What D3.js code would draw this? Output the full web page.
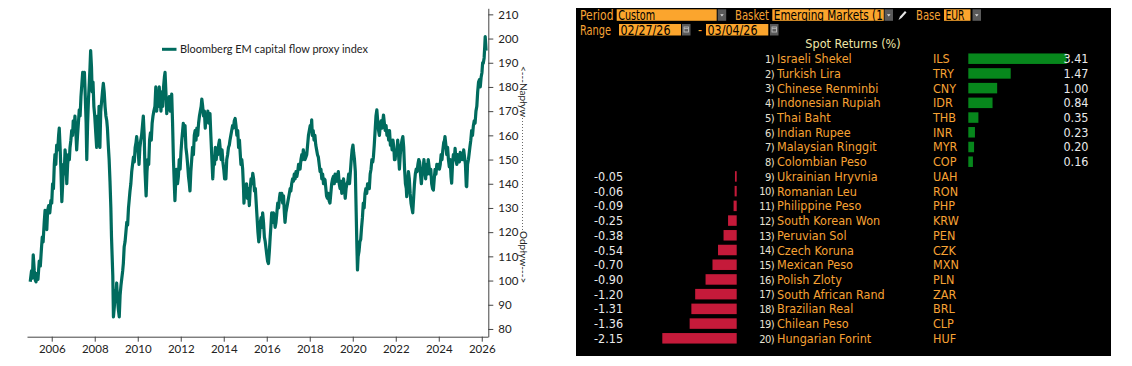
<!DOCTYPE html>
<html>
<head>
<meta charset="utf-8">
<script src="https://cdn.jsdelivr.net/npm/d3@7"></script>
<style>
  body { margin: 0; background: #fff; }
  svg { display: block; }
</style>
</head>
<body>
<script>
// ---- data: left chart (Bloomberg EM capital flow proxy index) ----
const flowSeries = [
  [2005.00, 99.5], [2005.06, 104], [2005.10, 101], [2005.14, 110.6], [2005.19, 104], [2005.24, 100],
  [2005.27, 99.5], [2005.32, 103], [2005.36, 100.5], [2005.42, 108], [2005.47, 106], [2005.52, 113],
  [2005.56, 118], [2005.60, 116], [2005.65, 124], [2005.69, 129], [2005.73, 126], [2005.77, 121],
  [2005.81, 129], [2005.86, 131], [2005.91, 128], [2005.96, 133], [2006.00, 132], [2006.04, 140],
  [2006.08, 138], [2006.12, 148], [2006.15, 152], [2006.19, 148], [2006.23, 156], [2006.28, 154],
  [2006.32, 160], [2006.35, 163], [2006.39, 155], [2006.43, 145], [2006.47, 132.6], [2006.51, 140],
  [2006.55, 148], [2006.58, 144], [2006.62, 154], [2006.66, 150], [2006.70, 140], [2006.74, 148],
  [2006.78, 152], [2006.82, 150], [2006.85, 155], [2006.89, 158], [2006.93, 162], [2006.97, 160],
  [2007.00, 166], [2007.04, 163], [2007.08, 168], [2007.12, 162], [2007.16, 154], [2007.20, 160],
  [2007.24, 165], [2007.28, 170.5], [2007.32, 168], [2007.36, 176], [2007.40, 181], [2007.44, 186],
  [2007.48, 184], [2007.52, 186], [2007.56, 176], [2007.60, 165], [2007.63, 150], [2007.67, 165],
  [2007.71, 175], [2007.75, 182], [2007.78, 188], [2007.81, 195], [2007.85, 188], [2007.88, 178],
  [2007.92, 182], [2007.96, 172], [2008.00, 168], [2008.04, 162], [2008.09, 155], [2008.13, 168],
  [2008.17, 160], [2008.20, 172], [2008.24, 155], [2008.28, 170], [2008.32, 174], [2008.36, 178],
  [2008.40, 181.5], [2008.44, 178], [2008.48, 172], [2008.52, 168], [2008.56, 166], [2008.59, 163],
  [2008.63, 156], [2008.67, 150], [2008.71, 141], [2008.75, 130], [2008.78, 118], [2008.81, 110],
  [2008.84, 102], [2008.87, 85], [2008.91, 89], [2008.95, 96], [2008.98, 92], [2009.02, 99],
  [2009.06, 92], [2009.10, 88], [2009.14, 85], [2009.18, 94], [2009.22, 98], [2009.26, 101],
  [2009.30, 104], [2009.33, 107], [2009.37, 114], [2009.41, 116], [2009.45, 120], [2009.49, 124],
  [2009.53, 123], [2009.57, 130], [2009.61, 134], [2009.64, 137], [2009.68, 140], [2009.72, 145],
  [2009.76, 148], [2009.80, 151], [2009.84, 149], [2009.88, 155], [2009.92, 157], [2009.95, 159.5],
  [2009.99, 156], [2010.03, 152], [2010.06, 148], [2010.10, 155], [2010.14, 158], [2010.18, 160],
  [2010.22, 164], [2010.26, 168], [2010.30, 160], [2010.34, 145], [2010.39, 135], [2010.43, 145],
  [2010.47, 150], [2010.51, 148], [2010.55, 158], [2010.59, 161], [2010.63, 158], [2010.67, 165],
  [2010.71, 168], [2010.75, 170], [2010.80, 172], [2010.84, 180], [2010.88, 170], [2010.92, 176],
  [2010.96, 172], [2011.00, 180], [2011.04, 175], [2011.08, 170], [2011.12, 178], [2011.16, 172],
  [2011.20, 180], [2011.24, 184], [2011.27, 186], [2011.31, 178], [2011.35, 169], [2011.39, 175],
  [2011.43, 172], [2011.47, 176], [2011.51, 170], [2011.55, 174], [2011.58, 177], [2011.62, 165],
  [2011.66, 150], [2011.70, 140], [2011.73, 133], [2011.77, 142], [2011.81, 146], [2011.85, 140],
  [2011.89, 143], [2011.93, 150], [2011.97, 146], [2012.01, 153], [2012.05, 158], [2012.09, 162],
  [2012.12, 165], [2012.16, 160], [2012.20, 164], [2012.24, 155], [2012.28, 152], [2012.32, 148],
  [2012.36, 143], [2012.40, 140], [2012.43, 137], [2012.47, 145], [2012.51, 150], [2012.55, 155],
  [2012.59, 152], [2012.63, 160], [2012.67, 162], [2012.71, 158], [2012.75, 163], [2012.79, 160],
  [2012.83, 165], [2012.87, 168], [2012.91, 170], [2012.95, 172], [2012.98, 175], [2013.02, 172],
  [2013.06, 168], [2013.10, 170], [2013.14, 163], [2013.18, 168], [2013.22, 166], [2013.26, 170],
  [2013.30, 165], [2013.36, 169], [2013.40, 160], [2013.44, 152], [2013.49, 142], [2013.53, 150],
  [2013.57, 148], [2013.61, 155], [2013.65, 150], [2013.69, 154], [2013.72, 152], [2013.76, 156],
  [2013.80, 158], [2013.84, 154], [2013.88, 150], [2013.92, 154], [2013.96, 149], [2014.00, 146],
  [2014.04, 142], [2014.08, 145], [2014.10, 142], [2014.14, 150], [2014.18, 152], [2014.22, 155],
  [2014.26, 156], [2014.29, 158], [2014.33, 160], [2014.37, 162], [2014.41, 164], [2014.45, 163],
  [2014.49, 166], [2014.53, 167], [2014.57, 164], [2014.61, 160], [2014.65, 162], [2014.69, 155],
  [2014.73, 158], [2014.77, 152], [2014.80, 148], [2014.84, 150], [2014.88, 146], [2014.92, 138],
  [2014.94, 132], [2014.98, 138], [2015.02, 136], [2015.06, 140], [2015.10, 134], [2015.14, 138],
  [2015.19, 131], [2015.23, 138], [2015.27, 142], [2015.31, 140], [2015.35, 144.3], [2015.39, 142],
  [2015.43, 137], [2015.47, 138], [2015.51, 132], [2015.55, 126], [2015.59, 120], [2015.63, 116],
  [2015.66, 118], [2015.70, 124], [2015.74, 126], [2015.78, 122], [2015.81, 128], [2015.85, 124],
  [2015.89, 118], [2015.93, 116], [2015.97, 113], [2016.01, 110], [2016.04, 108], [2016.08, 107],
  [2016.12, 112], [2016.16, 118], [2016.19, 122], [2016.23, 128], [2016.27, 124], [2016.31, 128],
  [2016.35, 126], [2016.39, 122], [2016.43, 124], [2016.47, 128], [2016.51, 132], [2016.55, 130],
  [2016.59, 134], [2016.62, 136], [2016.66, 134], [2016.70, 136], [2016.74, 132], [2016.78, 135],
  [2016.82, 128], [2016.85, 124], [2016.89, 128], [2016.93, 130], [2016.97, 132], [2017.01, 134],
  [2017.05, 136], [2017.09, 138], [2017.12, 137], [2017.16, 140], [2017.20, 142], [2017.24, 141],
  [2017.28, 144], [2017.32, 142], [2017.36, 145], [2017.40, 143], [2017.44, 145], [2017.48, 148],
  [2017.52, 146], [2017.55, 146], [2017.59, 150], [2017.63, 152], [2017.67, 150], [2017.70, 154],
  [2017.74, 152], [2017.78, 150], [2017.82, 151], [2017.86, 152], [2017.90, 156], [2017.94, 160],
  [2017.98, 162], [2018.02, 164], [2018.06, 162], [2018.09, 166.4], [2018.12, 160], [2018.16, 162],
  [2018.20, 158], [2018.24, 160], [2018.28, 156], [2018.32, 154], [2018.36, 152], [2018.40, 151],
  [2018.44, 148], [2018.48, 145], [2018.52, 146], [2018.56, 142], [2018.60, 144], [2018.64, 140],
  [2018.67, 142], [2018.71, 141.6], [2018.75, 138], [2018.78, 135], [2018.82, 134], [2018.86, 136],
  [2018.90, 133], [2018.94, 132], [2018.98, 136], [2019.02, 140], [2019.06, 142], [2019.10, 143],
  [2019.14, 140], [2019.18, 144], [2019.22, 142], [2019.26, 141], [2019.30, 144], [2019.33, 145],
  [2019.37, 140], [2019.41, 138], [2019.45, 141], [2019.49, 136], [2019.53, 140], [2019.57, 142],
  [2019.61, 138], [2019.65, 134], [2019.69, 138], [2019.73, 140], [2019.77, 141], [2019.81, 144],
  [2019.85, 140], [2019.89, 145], [2019.93, 150], [2019.97, 154], [2020.01, 156], [2020.04, 153],
  [2020.08, 150], [2020.12, 145], [2020.16, 128], [2020.19, 115], [2020.22, 104.4], [2020.25, 110],
  [2020.29, 112], [2020.33, 116], [2020.37, 117], [2020.41, 122], [2020.45, 126], [2020.49, 132],
  [2020.53, 130], [2020.57, 136], [2020.61, 138], [2020.65, 136], [2020.69, 140], [2020.73, 140],
  [2020.77, 138], [2020.81, 144], [2020.85, 146], [2020.89, 150], [2020.93, 149], [2020.96, 151],
  [2021.00, 156], [2021.04, 162], [2021.08, 168], [2021.12, 170.5], [2021.16, 166], [2021.20, 162],
  [2021.24, 160], [2021.28, 164], [2021.32, 166], [2021.36, 163], [2021.40, 166], [2021.43, 168.4],
  [2021.47, 165], [2021.51, 162], [2021.55, 164], [2021.59, 160], [2021.63, 162], [2021.67, 158],
  [2021.71, 162], [2021.75, 156], [2021.79, 158], [2021.83, 154], [2021.87, 158], [2021.91, 155],
  [2021.94, 150], [2021.97, 150], [2022.01, 154], [2022.05, 152], [2022.09, 158], [2022.13, 152],
  [2022.17, 146], [2022.21, 152], [2022.25, 156], [2022.29, 158], [2022.33, 159.5], [2022.37, 155],
  [2022.41, 146], [2022.45, 140], [2022.49, 138], [2022.51, 134.7], [2022.55, 140], [2022.59, 145],
  [2022.63, 142], [2022.67, 136], [2022.71, 132], [2022.75, 130], [2022.79, 128], [2022.83, 134],
  [2022.87, 140], [2022.91, 144], [2022.95, 146], [2022.99, 145], [2023.03, 148], [2023.07, 150],
  [2023.11, 149], [2023.15, 144], [2023.19, 140], [2023.23, 144], [2023.27, 146], [2023.31, 150],
  [2023.35, 146], [2023.39, 142], [2023.43, 148], [2023.47, 144], [2023.51, 150], [2023.55, 147],
  [2023.59, 144], [2023.63, 146], [2023.67, 140], [2023.71, 138], [2023.75, 137.4], [2023.79, 142],
  [2023.83, 146], [2023.87, 144], [2023.91, 148], [2023.95, 147], [2023.99, 148], [2024.03, 146],
  [2024.07, 148], [2024.11, 152], [2024.15, 150], [2024.19, 154], [2024.23, 157], [2024.27, 158],
  [2024.29, 159.5], [2024.33, 156], [2024.37, 152], [2024.41, 155], [2024.45, 150], [2024.49, 147],
  [2024.53, 150], [2024.57, 143], [2024.60, 140.2], [2024.64, 148], [2024.68, 152], [2024.72, 150],
  [2024.76, 154.6], [2024.80, 150], [2024.84, 148], [2024.88, 152], [2024.92, 150], [2024.96, 149],
  [2025.00, 153], [2025.04, 150], [2025.08, 152], [2025.12, 150], [2025.16, 154], [2025.20, 151],
  [2025.24, 148], [2025.28, 139], [2025.30, 138.8], [2025.34, 148], [2025.38, 150], [2025.42, 153],
  [2025.45, 155.3], [2025.49, 158], [2025.53, 162], [2025.57, 160], [2025.61, 164], [2025.65, 166],
  [2025.69, 165], [2025.73, 170], [2025.77, 172], [2025.81, 178], [2025.85, 182], [2025.89, 183],
  [2025.93, 180], [2025.97, 184], [2026.01, 186], [2026.04, 190], [2026.07, 189.8], [2026.11, 192],
  [2026.14, 197], [2026.16, 200.8], [2026.18, 198], [2026.20, 195]
];
const yearTicks = [2006, 2008, 2010, 2012, 2014, 2016, 2018, 2020, 2022, 2024, 2026];
const indexTicks = [80, 90, 100, 110, 120, 130, 140, 150, 160, 170, 180, 190, 200, 210];
const legendLabel = "Bloomberg EM capital flow proxy index";

// ---- data: right panel (Bloomberg spot returns, %) ----
const currencyNames = ["Israeli Shekel", "Turkish Lira", "Chinese Renminbi", "Indonesian Rupiah", "Thai Baht",
  "Indian Rupee", "Malaysian Ringgit", "Colombian Peso", "Ukrainian Hryvnia", "Romanian Leu",
  "Philippine Peso", "South Korean Won", "Peruvian Sol", "Czech Koruna", "Mexican Peso",
  "Polish Zloty", "South African Rand", "Brazilian Real", "Chilean Peso", "Hungarian Forint"];
const currencyCodes = ["ILS", "TRY", "CNY", "IDR", "THB", "INR", "MYR", "COP", "UAH", "RON",
  "PHP", "KRW", "PEN", "CZK", "MXN", "PLN", "ZAR", "BRL", "CLP", "HUF"];
const spotReturns = [3.41, 1.47, 1.00, 0.84, 0.35, 0.23, 0.20, 0.16, -0.05, -0.06,
  -0.09, -0.25, -0.38, -0.54, -0.70, -0.90, -1.20, -1.31, -1.36, -2.15];

const body = d3.select("body");
const svg = body.append("svg")
  .attr("width", 1132)
  .attr("height", 366);

//============ left: line chart ============
const chartFont = "Lato, 'Open Sans', sans-serif";
const teal = "#006b5e";

const x = d3.scaleLinear().domain([2004.85, 2026.29]).range([27, 488]);
const y = d3.scaleLinear().domain([76.8, 212.5]).range([336.7, 8.3]);

const xAxis = svg.append("g")
  .attr("transform", "translate(0,336.7)")
  .call(d3.axisBottom(x).tickValues(yearTicks).tickFormat(d3.format("d")).tickSize(5).tickSizeOuter(0).tickPadding(3));

const yAxis = svg.append("g")
  .attr("transform", "translate(488.3,0)")
  .call(d3.axisRight(y).tickValues(indexTicks).tickSize(5).tickSizeOuter(0).tickPadding(5));

[xAxis, yAxis].forEach(g => {
  g.selectAll("path, line").attr("stroke", "#444");
  g.selectAll("text").attr("fill", "#222").style("font-family", chartFont).style("font-size", "11.5px");
});

svg.append("path")
  .datum(flowSeries)
  .attr("fill", "none")
  .attr("stroke", teal)
  .attr("stroke-width", 3.2)
  .attr("stroke-linejoin", "round")
  .attr("d", d3.line().x(d => x(d[0])).y(d => y(d[1])));

// legend
svg.append("line")
  .attr("x1", 162).attr("x2", 176.5).attr("y1", 49.3).attr("y2", 49.3)
  .attr("stroke", teal).attr("stroke-width", 3);
svg.append("text")
  .attr("x", 180).attr("y", 53.3)
  .style("font-family", chartFont).style("font-size", "11.5px")
  .attr("textLength", 188).attr("lengthAdjust", "spacingAndGlyphs")
  .attr("fill", "#222")
  .text(legendLabel);

// inflow / outflow marker on the right
const flowNote = svg.append("g").style("font-family", chartFont).style("font-size", "10px").attr("fill", "#222");
flowNote.append("text")
  .attr("transform", "translate(520,66) rotate(90)")
  .text("<---Napływ");
flowNote.append("text")
  .attr("transform", "translate(520,231) rotate(90)")
  .text("Odpływ--->");
svg.append("line")
  .attr("x1", 522.5).attr("x2", 522.5).attr("y1", 115).attr("y2", 230)
  .attr("stroke", "#444").attr("stroke-width", 0.8).attr("stroke-dasharray", "1,2");

//============ right: terminal panel ============
const termFont = "'Liberation Sans Narrow', 'DejaVu Sans Condensed', 'Roboto', sans-serif";
const amber = "#f7a234";
const fieldFill = "#fba52d";
const panel = svg.append("g").style("font-family", termFont);

panel.append("rect").attr("x", 576).attr("y", 8).attr("width", 535).attr("height", 348).attr("fill", "#000");

// header fields (text squeezed to the widths seen on the screen)
const label = (txt, xx, yy, len) => panel.append("text").attr("x", xx).attr("y", yy)
  .attr("fill", amber).style("font-size", "13.5px")
  .attr("textLength", len).attr("lengthAdjust", "spacingAndGlyphs").text(txt);
const field = (txt, xx, yy, w, len) => {
  panel.append("rect").attr("x", xx).attr("y", yy).attr("width", w).attr("height", 11.5).attr("fill", fieldFill);
  panel.append("text").attr("x", xx + 1.5).attr("y", yy + 10.5)
    .attr("fill", "#000").style("font-size", "13.5px")
    .attr("textLength", len).attr("lengthAdjust", "spacingAndGlyphs").text(txt);
};
const dropdown = (xx, yy) => {
  panel.append("rect").attr("x", xx).attr("y", yy).attr("width", 8.5).attr("height", 11.5).attr("fill", "#5a5a5a");
  panel.append("path").attr("d", `M${xx + 2.5},${yy + 5} h3.5 l-1.75,2.2z`).attr("fill", "#ddd");
};
const calendar = (xx, yy) => {
  panel.append("rect").attr("x", xx).attr("y", yy).attr("width", 8.5).attr("height", 11.5).attr("fill", "#5a5a5a");
  panel.append("rect").attr("x", xx + 2).attr("y", yy + 3).attr("width", 4.5).attr("height", 5)
    .attr("fill", "none").attr("stroke", "#bbb").attr("stroke-width", 0.9);
  panel.append("line").attr("x1", xx + 2).attr("x2", xx + 6.5).attr("y1", yy + 4.6).attr("y2", yy + 4.6)
    .attr("stroke", "#bbb").attr("stroke-width", 0.9);
};

label("Period", 580, 20, 33.5);
field("Custom", 616.7, 9.3, 100, 37);
dropdown(717.7, 9.3);
label("Basket", 735, 20, 34);
field("Emerging Markets (1", 772.3, 9.3, 111.5, 109);
dropdown(884.5, 9.3);
// pencil
panel.append("path").attr("d", "M898.5,20 L900,16.5 L905,11 L906.5,12.5 L901.5,18 Z").attr("fill", "#e8e8e8");
label("Base", 916, 20, 24.5);
field("EUR", 944, 9.3, 26.5, 19);
dropdown(972.5, 9.3);

label("Range", 580, 34.5, 31);
field("02/27/26", 619, 24, 62, 50);
calendar(682, 24);
label("-", 698, 34.5, 4);
field("03/04/26", 706, 24, 62.3, 50);
calendar(770, 24);

panel.append("text").attr("x", 853).attr("y", 48)
  .attr("text-anchor", "middle").attr("fill", "#efe6a8").style("font-size", "12.5px")
  .text("Spot Returns (%)");

// rows
const rowY = d3.scalePoint().domain(currencyCodes).range([58.7, 338.3]);
const posX = d3.scaleLinear().domain([0, 3.41]).range([968.3, 1066.7]);
const negX = d3.scaleLinear().domain([-2.15, 0]).range([662.3, 736.7]);
const barH = 10.5;

const rows = panel.selectAll(".ccy-row")
  .data(currencyCodes.map((c, i) => ({code: c, name: currencyNames[i], ret: spotReturns[i], rank: i + 1})))
  .join("g")
  .attr("class", "ccy-row")
  .attr("transform", d => `translate(0,${rowY(d.code)})`);

rows.append("text")
  .attr("x", 774).attr("y", 4.3).attr("text-anchor", "end")
  .attr("fill", "#e8e2d2").style("font-size", "11px").attr("letter-spacing", "-0.6")
  .text(d => d.rank + ")");
rows.append("text")
  .attr("x", 777).attr("y", 4.5).attr("fill", amber).style("font-size", "12.5px")
  .text(d => d.name);
rows.append("text")
  .attr("x", 933).attr("y", 4.5).attr("fill", amber).style("font-size", "12.5px")
  .text(d => d.code);

rows.append("rect")
  .attr("x", d => d.ret >= 0 ? posX(0) : negX(d.ret))
  .attr("y", -barH / 2)
  .attr("width", d => d.ret >= 0 ? posX(d.ret) - posX(0) : negX(0) - negX(d.ret))
  .attr("height", barH)
  .attr("fill", d => d.ret >= 0 ? "#07871c" : "#c51a3a");

rows.append("text")
  .attr("x", d => d.ret >= 0 ? 1088.5 : 594)
  .attr("y", 4.5)
  .attr("text-anchor", d => d.ret >= 0 ? "end" : "start")
  .attr("fill", "#eaeaea").style("font-size", "12.5px")
  .text(d => d3.format(".2f")(d.ret).replace("−", "-"));
</script>
</body>
</html>
